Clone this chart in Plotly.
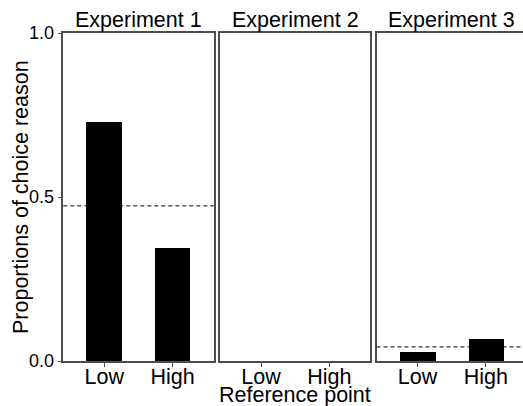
import plotly.graph_objects as go

# Proportion of choices explained by the reason, per experiment and reference point
experiments = ["Experiment 1", "Experiment 2", "Experiment 3"]
reference_points = ["Low", "High"]
exp1_values = [0.728, 0.344]
exp2_values = [0.0, 0.0]
exp3_values = [0.0265, 0.068]
chance_levels = [0.473, None, 0.043]
y_ticks = [0.0, 0.5, 1.0]
y_tick_labels = ["0.0", "0.5", "1.0"]

series = [exp1_values, exp2_values, exp3_values]

W, H = 523, 406
ML, MR, MT, MB = 63, 0, 33, 45
plot_w = W - ML - MR
px_per_unit = 150.4 / 2.2

# panel pixel extents (left, right) within the figure
panels_px = [(63.3, 213.7), (220.0, 370.4), (376.5, 523.0)]
domains = [((a - ML) / plot_w, (b - ML) / plot_w) for a, b in panels_px]

fig = go.Figure()
border = "#4d4d4d"
font = "Liberation Sans, Arial, sans-serif"
TITLE_SIZE = 21.5

for i, (name, vals) in enumerate(zip(experiments, series)):
    ax = "" if i == 0 else str(i + 1)
    xpos = [1, 2]
    fig.add_trace(go.Bar(
        x=xpos, y=vals, width=0.52,
        marker=dict(color="black", line=dict(width=0)),
        xaxis="x" + ax, yaxis="y" + ax, showlegend=False,
    ))
    a, b = panels_px[i]
    x_hi = 0.4 + (b - a) / px_per_unit
    xa = dict(
        domain=list(domains[i]), range=[0.4, x_hi],
        tickmode="array", tickvals=xpos, ticktext=reference_points,
        ticks="outside", ticklen=4, tickcolor=border, tickwidth=1,
        ticklabelstandoff=-9,
        showline=True, linecolor=border, linewidth=1.5, mirror=True,
        showgrid=False, zeroline=False,
        tickfont=dict(size=TITLE_SIZE, color="black", family=font),
        anchor="y" + ax,
    )
    ya = dict(
        domain=[0, 1], range=[0, 1],
        showline=True, linecolor=border, linewidth=1.5,
        mirror=(i < 2),
        showgrid=False, zeroline=False,
        anchor="x" + ax,
    )
    if i == 0:
        ya.update(tickmode="array", tickvals=y_ticks, ticktext=y_tick_labels,
                  ticks="outside", ticklen=4, tickcolor=border, tickwidth=1,
                  tickfont=dict(size=18, color="black", family=font))
    else:
        ya.update(showticklabels=False, ticks="", matches="y")
    fig.layout["xaxis" + ax] = xa
    fig.layout["yaxis" + ax] = ya

    # chance level reference line
    if chance_levels[i] is not None:
        fig.add_shape(type="line", xref=f"x{ax} domain", yref="y" + ax,
                      x0=0, x1=1, y0=chance_levels[i], y1=chance_levels[i],
                      line=dict(color="black", width=1, dash="4px,3px"))

    # panel title, centred over the full panel width
    center_px = a + 150.4 / 2
    fig.add_annotation(text=name, xref="paper", yref="paper",
                       x=(center_px - ML) / plot_w, y=1, xanchor="center",
                       yanchor="bottom", yshift=-1, showarrow=False,
                       font=dict(size=TITLE_SIZE, color="black", family=font))

fig.add_annotation(text="Proportions of choice reason", xref="paper", yref="paper",
                   x=(21 - ML) / plot_w, y=0.5, xanchor="center", yanchor="middle",
                   textangle=-90, showarrow=False,
                   font=dict(size=TITLE_SIZE, color="black", family=font))
fig.add_annotation(text="Reference point", xref="paper", yref="paper",
                   x=(295 - ML) / plot_w, y=0, xanchor="center", yanchor="top",
                   yshift=-20, showarrow=False,
                   font=dict(size=TITLE_SIZE, color="black", family=font))

fig.update_layout(
    width=W, height=H,
    margin=dict(l=ML, r=MR, t=MT, b=MB, pad=0),
    paper_bgcolor="white", plot_bgcolor="white",
    bargap=0, font=dict(family=font, color="black"),
)

fig.write_html("out.html")
